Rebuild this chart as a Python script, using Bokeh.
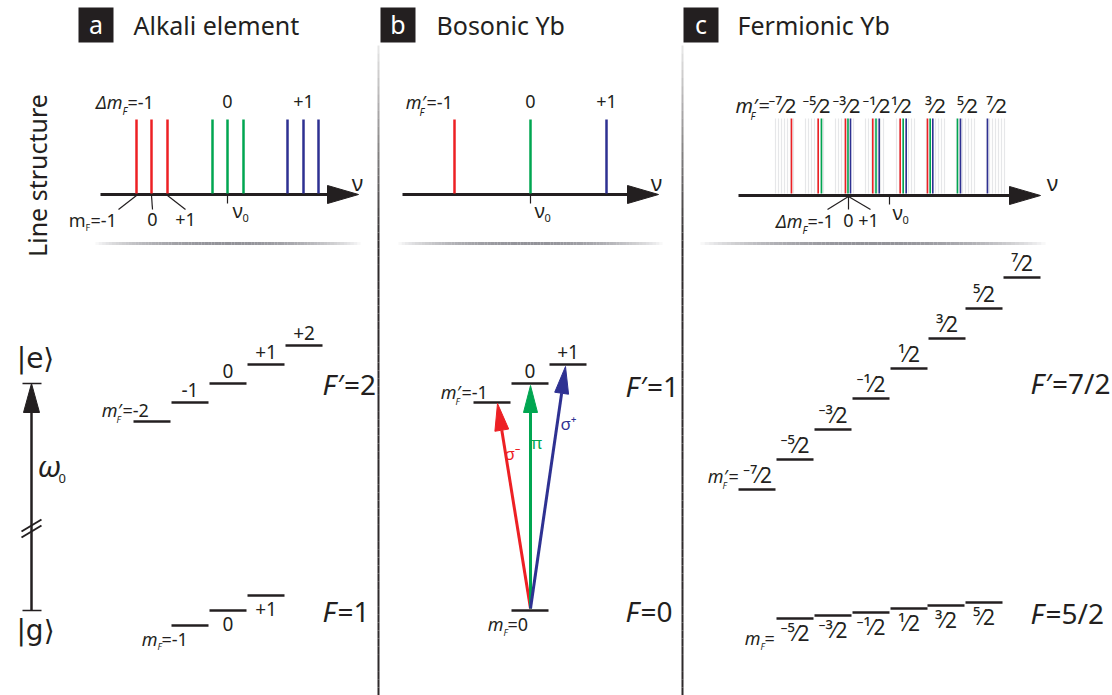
import numpy as np
from bokeh.plotting import figure
from bokeh.models import Range1d
from bokeh.core.properties import value
from bokeh.embed import file_html
from bokeh.resources import INLINE

# ---------------- data ----------------
# Panel a: alkali line structure, positions of the lines on the nu axis
alkali_nu0 = 227
alkali_sigma_minus = [136, 151, 167]
alkali_pi = [212, 227, 243]
alkali_sigma_plus = [287, 303, 318]
alkali_group_labels = ["0", "+1"]
alkali_group_label_x = [227, 303]
alkali_mf_labels = ["0", "+1"]
alkali_mf_label_x = [152, 185]

# Panel a: Zeeman levels
alkali_exc_mF = ["", "-1", "0", "+1", "+2"]
alkali_exc_x0 = [133, 171, 209, 247, 285]
alkali_exc_y = [421, 402, 383, 364, 345]
alkali_gnd_mF = ["", "0", "+1"]
alkali_gnd_x0 = [171, 209, 247]
alkali_gnd_y = [625, 610, 595]

# Panel b: bosonic Yb line structure
boson_nu0 = 530
boson_lines = [454, 530, 606]
boson_line_labels = ["", "0", "+1"]

# Panel b: levels
boson_exc_mF = ["", "0", "+1"]
boson_exc_x0 = [473, 511, 549]
boson_exc_y = [402, 383, 364]
boson_gnd_x0 = [511]
boson_gnd_y = [610]
boson_arrow_tip_x = [497, 530, 565]
boson_arrow_tip_y = [403, 385, 366]
boson_arrow_names = ["σ⁻", "π", "σ⁺"]

# Panel c: fermionic Yb line structure
fermi_nu0 = 889
fermi_red = [791, 817.7, 845, 872.3, 899.7, 927]
fermi_green = [821, 847.5, 875.5, 902.7, 929.7, 957]
fermi_blue = [850, 878.7, 905.7, 932.3, 960, 987]
fermi_gray_group_start = [775, 805, 835, 865, 896, 926, 956, 986]
fermi_gray_offsets = [0, 3, 6, 9, 12, 15, 18]
fermi_top_labels = ["⁻⁷⁄2", "⁻⁵⁄2", "⁻³⁄2", "⁻¹⁄2", "¹⁄2", "³⁄2", "⁵⁄2", "⁷⁄2"]
fermi_top_label_x = [782, 816, 846, 876, 901, 935, 967, 996]

# Panel c: levels
fermi_exc_mF = ["", "⁻⁵⁄2", "⁻³⁄2", "⁻¹⁄2", "¹⁄2", "³⁄2", "⁵⁄2", "⁷⁄2"]
fermi_exc_x0 = [738, 776, 814, 852, 890, 928, 965, 1003]
fermi_exc_y = [489, 459, 429, 398, 368, 338, 308, 277]
fermi_gnd_mF = ["⁻⁵⁄2", "⁻³⁄2", "⁻¹⁄2", "¹⁄2", "³⁄2", "⁵⁄2"]
fermi_gnd_x0 = [776, 814, 852, 890, 927, 965]
fermi_gnd_y = [618, 615, 612, 608, 605, 602]

LEVEL_W = 37
RED, GREEN, BLUE = "#ed2024", "#00a651", "#2e3192"
INK = "#231f20"
FONT = "Noto Sans"

W, H = 1112, 695
p = figure(width=W, height=H, x_range=Range1d(0, W), y_range=Range1d(H, 0),
           output_backend="svg", toolbar_location=None, min_border=0)
p.axis.visible = False
p.grid.visible = False
p.outline_line_color = None
p.background_fill_color = "white"
p.border_fill_color = "white"


def T(x, y, s, size, color=INK, align="center", baseline="middle", style="normal", angle=0.0, font=FONT):
    p.text(x=[x], y=[y], text=[s], text_font_size=f"{size}px", text_color=color,
           text_align=align, text_baseline=baseline, text_font_style=style,
           angle=angle, text_font=value(font))


def seg(x0, y0, x1, y1, color=INK, width=2.5, alpha=1.0):
    p.segment(x0=list(x0), y0=list(y0), x1=list(x1), y1=list(y1),
              line_color=color, line_width=width, line_alpha=alpha)


def hgrad(xa, xb, y, n=80):
    xs = np.linspace(xa, xb, n + 1)
    t = np.linspace(0, 1, n + 1)
    tm = (t[:-1] + t[1:]) / 2
    alpha = (np.sin(np.pi * tm) ** 0.7) * 0.85
    p.segment(x0=xs[:-1], y0=[y] * n, x1=xs[1:], y1=[y] * n,
              line_color="#808087", line_alpha=alpha, line_width=3)


def vgrad(x, ya, yb, n=80):
    ys = np.linspace(ya, yb, n + 1)
    t = np.linspace(0, 1, n + 1)
    tm = (t[:-1] + t[1:]) / 2
    alpha = np.clip(tm / 0.3, 0, 1) * 0.85 + 0.1
    p.segment(x0=[x] * n, y0=ys[:-1], x1=[x] * n, y1=ys[1:],
              line_color=INK, line_alpha=alpha, line_width=2)


def axis_arrow(xa, xtip, y):
    seg([xa], [y], [xtip - 25], [y], width=3)
    p.patch(x=[xtip - 31, xtip, xtip - 31], y=[y - 9, y, y + 9], fill_color=INK, line_color=INK)


# ---------------- separators and headers ----------------
vgrad(378, 45, 695)
vgrad(682, 45, 695)
hgrad(95, 360, 243)
hgrad(398, 662, 243)
hgrad(700, 1045, 243)

for bx, letter, title, tx in [(95.5, "a", "Alkali element", 133), (397.5, "b", "Bosonic Yb", 436),
                              (700.5, "c", "Fermionic Yb", 737)]:
    p.rect(x=[bx], y=[24.5], width=35, height=35, fill_color=INK, line_color=None)
    T(bx, 23, letter, 25, color="white")
    T(tx, 24, title, 25, align="left")

T(36, 175, "Line structure", 25, angle=np.pi / 2)

# ---------------- panel a: line structure ----------------
axis_arrow(100, 358, 194)
for xs, c in [(alkali_sigma_minus, RED), (alkali_pi, GREEN), (alkali_sigma_plus, BLUE)]:
    seg(xs, [119] * 3, xs, [193] * 3, color=c, width=2.5)
T(122, 101, "Δm", 18, align="right", style="italic")
T(122, 110, "F", 10, align="left", style="italic")
T(127, 101, "=-1", 18, align="left")
for s, x in zip(alkali_group_labels, alkali_group_label_x):
    T(x, 101, s, 18)
T(357, 181, "ν", 22)
seg([alkali_sigma_minus[0], alkali_sigma_minus[1], alkali_sigma_minus[2]], [195, 195, 195],
    [118, 152, 185], [209, 209, 209], width=1.2)
T(85, 219, "m", 18, align="right")
T(85, 227, "F", 9, align="left")
T(90, 219, "=-1", 18, align="left")
for s, x in zip(alkali_mf_labels, alkali_mf_label_x):
    T(x, 219, s, 18)
seg([alkali_nu0], [195], [alkali_nu0], [203], width=1.2)
T(232, 210, "ν", 20, align="left")
T(242, 217, "0", 11, align="left")

# ---------------- panel a: levels ----------------
seg(alkali_exc_x0, alkali_exc_y, [x + LEVEL_W for x in alkali_exc_x0], alkali_exc_y, width=2.5)
seg(alkali_gnd_x0, alkali_gnd_y, [x + LEVEL_W for x in alkali_gnd_x0], alkali_gnd_y, width=2.5)
for s, x, y in zip(alkali_exc_mF, alkali_exc_x0, alkali_exc_y):
    if s:
        T(x + LEVEL_W / 2, y - 13, s, 19)
for s, x, y in zip(alkali_gnd_mF, alkali_gnd_x0, alkali_gnd_y):
    if s:
        T(x + LEVEL_W / 2, y + 13, s, 19)
T(121, 409, "m′", 18, align="right", style="italic")
T(116, 419, "F", 9, align="left", style="italic")
T(122, 409, "=-2", 18, align="left")
T(157, 638, "m", 18, align="right", style="italic")
T(157, 646, "F", 9, align="left", style="italic")
T(161, 638, "=-1", 18, align="left")
T(322, 383, "F", 28, align="left", style="italic")
T(337, 383, "′=2", 28, align="left")
T(322, 610, "F", 28, align="left", style="italic")
T(337, 610, "=1", 28, align="left")

# left energy axis
seg([31], [410], [31], [610], width=2.5)
p.patch(x=[23, 31, 39], y=[412, 383, 412], fill_color=INK, line_color=INK)
seg([22, 22], [383, 610], [41, 41], [383, 610], width=1.5)
seg([21, 21], [531, 537], [41, 41], [519, 525], width=2)
T(35, 358, "|e⟩", 28, font="DejaVu Sans")
T(35, 630, "|g⟩", 28, font="DejaVu Sans")
T(37, 465, "ω", 30, align="left", style="italic")
T(58, 478, "0", 13, align="left")

# ---------------- panel b: line structure ----------------
axis_arrow(402, 658, 194)
for x, c in zip(boson_lines, [RED, GREEN, BLUE]):
    seg([x], [119], [x], [193], color=c, width=2.5)
T(425, 101, "m′", 18, align="right", style="italic")
T(419, 111, "F", 10, align="left", style="italic")
T(426, 101, "=-1", 18, align="left")
for s, x in zip(boson_line_labels, boson_lines):
    if s:
        T(x, 101, s, 18)
T(656, 181, "ν", 22)
seg([boson_nu0], [195], [boson_nu0], [203], width=1.2)
T(534, 210, "ν", 20, align="left")
T(544, 217, "0", 11, align="left")

# ---------------- panel b: levels ----------------
seg(boson_exc_x0, boson_exc_y, [x + LEVEL_W for x in boson_exc_x0], boson_exc_y, width=2.5)
seg(boson_gnd_x0, boson_gnd_y, [x + LEVEL_W for x in boson_gnd_x0], boson_gnd_y, width=2.5)
for s, x, y in zip(boson_exc_mF, boson_exc_x0, boson_exc_y):
    if s:
        T(x + LEVEL_W / 2, y - 13, s, 19)
T(460, 391, "m′", 18, align="right", style="italic")
T(455, 401, "F", 9, align="left", style="italic")
T(461, 391, "=-1", 18, align="left")
T(503, 623, "m", 18, align="right", style="italic")
T(503, 632, "F", 9, align="left", style="italic")
T(507, 623, "=0", 18, align="left")
T(625, 385, "F", 28, align="left", style="italic")
T(640, 385, "′=1", 28, align="left")
T(625, 610, "F", 28, align="left", style="italic")
T(640, 610, "=0", 28, align="left")

x_start, y_start = 530, 608
for tx, ty, c in zip(boson_arrow_tip_x, boson_arrow_tip_y, [RED, GREEN, BLUE]):
    dx, dy = tx - x_start, ty - y_start
    L = np.hypot(dx, dy)
    ux, uy = dx / L, dy / L
    bx, by = tx - 27 * ux, ty - 27 * uy
    seg([x_start], [y_start], [bx], [by], color=c, width=3)
    p.patch(x=[tx, bx - 7 * uy, bx + 7 * uy], y=[ty, by + 7 * ux, by - 7 * ux],
            fill_color=c, line_color=c)
T(512, 453, boson_arrow_names[0], 17, color=RED)
T(536, 442, boson_arrow_names[1], 17, color=GREEN)
T(568, 423, boson_arrow_names[2], 17, color=BLUE)

# ---------------- panel c: line structure ----------------
gray_x = [s + o for s in fermi_gray_group_start for o in fermi_gray_offsets]
seg(gray_x, [118] * len(gray_x), gray_x, [193] * len(gray_x), color="#e6e7e9", width=1.2)
for xs, c in [(fermi_red, RED), (fermi_green, GREEN), (fermi_blue, BLUE)]:
    seg(xs, [118] * len(xs), xs, [193] * len(xs), color=c, width=1.6)
axis_arrow(738, 1040, 195)
T(757, 105, "m′", 20, align="right", style="italic")
T(750, 115, "F", 10, align="left", style="italic")
T(758, 105, "=", 20, align="left")
for s, x in zip(fermi_top_labels, fermi_top_label_x):
    T(x, 105, s, 20)
T(1052, 181, "ν", 22)
seg([fermi_nu0], [196], [fermi_nu0], [204], width=1.2)
T(892, 212, "ν", 20, align="left")
T(902, 219, "0", 11, align="left")
seg([848, 848, 848], [196, 196, 196], [827, 848, 870], [209, 209, 209], width=1.2)
T(802, 220, "Δm", 18, align="right", style="italic")
T(802, 229, "F", 10, align="left", style="italic")
T(807, 220, "=-1", 18, align="left")
T(848, 220, "0", 18)
T(868, 220, "+1", 18)

# ---------------- panel c: levels ----------------
seg(fermi_exc_x0, fermi_exc_y, [x + LEVEL_W for x in fermi_exc_x0], fermi_exc_y, width=2.5)
seg(fermi_gnd_x0, fermi_gnd_y, [x + LEVEL_W for x in fermi_gnd_x0], fermi_gnd_y, width=2.5)
for s, x, y in zip(fermi_exc_mF, fermi_exc_x0, fermi_exc_y):
    if s:
        T(x + LEVEL_W / 2, y - 15, s, 21)
for s, x, y in zip(fermi_gnd_mF, fermi_gnd_x0, fermi_gnd_y):
    T(x + LEVEL_W / 2, y + 14, s, 21)
T(727, 475, "m′", 18, align="right", style="italic")
T(722, 485, "F", 9, align="left", style="italic")
T(728, 475, "=", 18, align="left")
T(757, 474, "⁻⁷⁄2", 21)
T(760, 637, "m", 18, align="right", style="italic")
T(760, 646, "F", 9, align="left", style="italic")
T(764, 637, "=", 18, align="left")
T(1030, 382, "F", 28, align="left", style="italic")
T(1045, 382, "′=7/2", 28, align="left")
T(1030, 612, "F", 28, align="left", style="italic")
T(1045, 612, "=5/2", 28, align="left")

open("out.html", "w").write(file_html(p, INLINE))
